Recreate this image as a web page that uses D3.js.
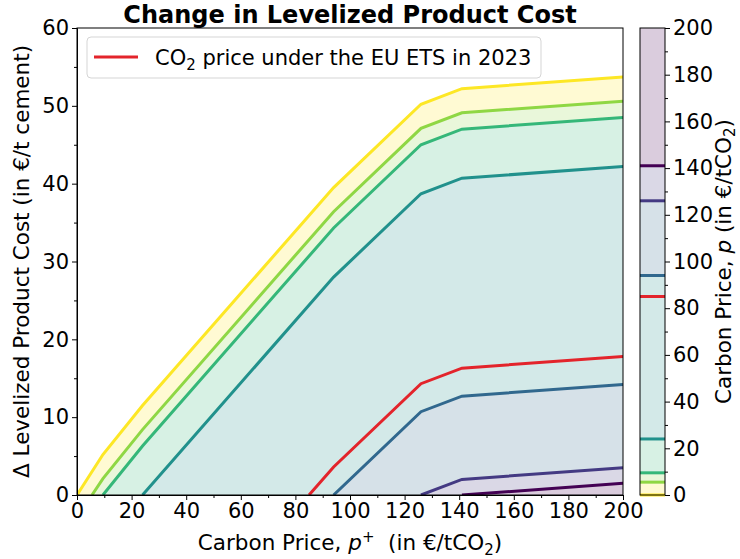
<!DOCTYPE html>
<html>
<head>
<meta charset="utf-8">
<script src="https://cdn.jsdelivr.net/npm/d3@7"></script>
<style>
  body { margin: 0; background: #fff; }
  text { font-family: "DejaVu Sans", sans-serif; fill: #000; }
</style>
</head>
<body>
<svg id="chart" width="740" height="559"></svg>
<script>
// carbon price levels p (in €/tCO2) of the contour lines
const levels = [0, 5.5, 9.5, 24, 85, 94, 126, 141];
const lineColors = ["#fde725", "#8fd744", "#35b779", "#21918c", "#e3242b", "#31688e", "#443a83", "#440154"];
// red line = CO2 price under the EU ETS in 2023, not a filled band
const isRef = [false, false, false, false, true, false, false, false];

// each curve: [p+, Δ levelized cost]
const curveYellow = [[0, 0], [9.5, 5.2], [24, 11.5], [94, 39.5], [126, 50.2], [141, 52.2], [200, 53.7]];
const curveLime = [[5.5, 0], [9.5, 2.1], [24, 8.4], [94, 36.4], [126, 47.1], [141, 49.1], [200, 50.6]];
const curveGreen = [[9.5, 0], [24, 6.3], [94, 34.3], [126, 45.0], [141, 47.0], [200, 48.5]];
const curveTeal = [[24, 0], [94, 28.0], [126, 38.7], [141, 40.7], [200, 42.2]];
const curveRed = [[85, 0], [94, 3.6], [126, 14.3], [141, 16.3], [200, 17.8]];
const curveBlue = [[94, 0], [126, 10.7], [141, 12.7], [200, 14.2]];
const curveIndigo = [[126, 0], [141, 2.0], [200, 3.5]];
const curvePurple = [[141, 0], [200, 1.5]];
const curves = [curveYellow, curveLime, curveGreen, curveTeal, curveRed, curveBlue, curveIndigo, curvePurple];

const xTicks = [0, 20, 40, 60, 80, 100, 120, 140, 160, 180, 200];
const yTicks = [0, 10, 20, 30, 40, 50, 60];
const cbTicks = [0, 20, 40, 60, 80, 100, 120, 140, 160, 180, 200];

const svg = d3.select("#chart");
const margin = { top: 28, left: 77, right: 623, bottom: 495 };

const x = d3.scaleLinear().domain([0, 200]).range([margin.left, margin.right]);
const y = d3.scaleLinear().domain([0, 60]).range([margin.bottom, margin.top]);

const tint = c => d3.interpolateRgb("#ffffff", c)(0.2);

// filled bands, largest first so the smaller ones paint over
const area = d3.area()
    .x(d => x(d[0]))
    .y0(y(0))
    .y1(d => y(d[1]));

curves.forEach((c, i) => {
    if (isRef[i]) return;
    svg.append("path")
        .attr("d", area(c))
        .attr("fill", tint(lineColors[i]));
});

const line = d3.line().x(d => x(d[0])).y(d => y(d[1]));
svg.append("defs").append("clipPath").attr("id", "clip")
    .append("rect")
    .attr("x", margin.left).attr("y", margin.top)
    .attr("width", margin.right - margin.left)
    .attr("height", margin.bottom - margin.top);

curves.forEach((c, i) => {
    svg.append("path")
        .attr("d", line(c))
        .attr("fill", "none")
        .attr("stroke", lineColors[i])
        .attr("stroke-width", 3)
        .attr("clip-path", "url(#clip)");
});

// axes
const fs = "21px";
const lfs = "21.5px";
svg.append("g")
    .attr("transform", `translate(0,${margin.bottom})`)
    .call(d3.axisBottom(x).tickValues(xTicks).tickSize(5).tickPadding(3));
svg.append("g")
    .attr("transform", `translate(0,${margin.bottom})`)
    .call(d3.axisBottom(x).tickValues(d3.range(10, 200, 20)).tickSize(3).tickFormat(""))
    .call(g => g.select(".domain").remove());
svg.append("g")
    .attr("transform", `translate(${margin.left},0)`)
    .call(d3.axisLeft(y).tickValues(yTicks).tickSize(5).tickPadding(3));
svg.append("g")
    .attr("transform", `translate(${margin.left},0)`)
    .call(d3.axisLeft(y).tickValues(d3.range(5, 60, 10)).tickSize(3).tickFormat(""))
    .call(g => g.select(".domain").remove());

svg.selectAll(".tick text").style("font-size", fs).style("font-family", "DejaVu Sans");
svg.selectAll(".domain, .tick line").attr("stroke", "#000");

// frame
svg.append("rect")
    .attr("x", margin.left).attr("y", margin.top)
    .attr("width", margin.right - margin.left)
    .attr("height", margin.bottom - margin.top)
    .attr("fill", "none")
    .attr("stroke", "#000")
    .attr("stroke-width", 1);

// title & labels
svg.append("text")
    .attr("x", (margin.left + margin.right) / 2)
    .attr("y", 23)
    .attr("text-anchor", "middle")
    .style("font-size", "24px")
    .style("font-weight", "bold")
    .text("Change in Levelized Product Cost");

const xl = svg.append("text")
    .attr("x", (margin.left + margin.right) / 2)
    .attr("y", 550)
    .attr("text-anchor", "middle")
    .style("font-size", lfs);
xl.append("tspan").text("Carbon Price, ");
xl.append("tspan").style("font-style", "italic").text("p");
xl.append("tspan").attr("dy", -8).style("font-size", "15px").text("+");
xl.append("tspan").attr("dy", 8).text("\u00a0 (in €/tCO");
xl.append("tspan").attr("dy", 5).style("font-size", "15px").text("2");
xl.append("tspan").attr("dy", -5).text(")");

svg.append("text")
    .attr("transform", `translate(29,${(margin.top + margin.bottom) / 2}) rotate(-90)`)
    .attr("text-anchor", "middle")
    .style("font-size", lfs)
    .text("Δ Levelized Product Cost (in €/t cement)");

// legend
const leg = svg.append("g");
leg.append("rect")
    .attr("x", 87).attr("y", 37).attr("width", 454).attr("height", 41)
    .attr("rx", 4)
    .attr("fill", "#fff").attr("fill-opacity", 0.8)
    .attr("stroke", "#d5d5d5");
leg.append("line")
    .attr("x1", 94).attr("x2", 138).attr("y1", 57).attr("y2", 57)
    .attr("stroke", lineColors[4]).attr("stroke-width", 3);
const lt = leg.append("text").attr("x", 155).attr("y", 65).style("font-size", fs);
lt.append("tspan").text("CO");
lt.append("tspan").attr("dy", 5).style("font-size", "15px").text("2");
lt.append("tspan").attr("dy", -5).text(" price under the EU ETS in 2023");

// colorbar
const cb = { x: 640, w: 25 };
const cy = d3.scaleLinear().domain([0, 200]).range([margin.bottom, margin.top]);
const bandLevels = levels.filter((d, i) => !isRef[i]);
const bandColors = lineColors.filter((d, i) => !isRef[i]);
bandLevels.forEach((lv, i) => {
    const top = i + 1 < bandLevels.length ? bandLevels[i + 1] : 200;
    svg.append("rect")
        .attr("x", cb.x).attr("width", cb.w)
        .attr("y", cy(top)).attr("height", cy(lv) - cy(top))
        .attr("fill", tint(bandColors[i]));
});
levels.forEach((lv, i) => {
    svg.append("line")
        .attr("x1", cb.x).attr("x2", cb.x + cb.w)
        .attr("y1", cy(lv)).attr("y2", cy(lv))
        .attr("stroke", lineColors[i]).attr("stroke-width", 3);
});
svg.append("rect")
    .attr("x", cb.x).attr("y", margin.top)
    .attr("width", cb.w).attr("height", margin.bottom - margin.top)
    .attr("fill", "none").attr("stroke", "#000");

svg.append("g")
    .attr("transform", `translate(${cb.x + cb.w},0)`)
    .call(d3.axisRight(cy).tickValues(cbTicks).tickSize(5).tickPadding(3))
    .call(g => g.select(".domain").remove())
    .call(g => g.selectAll("text").style("font-size", fs).style("font-family", "DejaVu Sans"));
svg.append("g")
    .attr("transform", `translate(${cb.x + cb.w},0)`)
    .call(d3.axisRight(cy).tickValues(d3.range(10, 200, 20)).tickSize(3).tickFormat(""))
    .call(g => g.select(".domain").remove());
svg.selectAll(".tick line").attr("stroke", "#000");

const cl = svg.append("text")
    .attr("transform", `translate(731,${(margin.top + margin.bottom) / 2}) rotate(-90)`)
    .attr("text-anchor", "middle")
    .style("font-size", lfs);
cl.append("tspan").text("Carbon Price, ");
cl.append("tspan").style("font-style", "italic").text("p");
cl.append("tspan").text(" (in €/tCO");
cl.append("tspan").attr("dy", 4).style("font-size", "15px").text("2");
cl.append("tspan").attr("dy", -4).text(")");
</script>
</body>
</html>
